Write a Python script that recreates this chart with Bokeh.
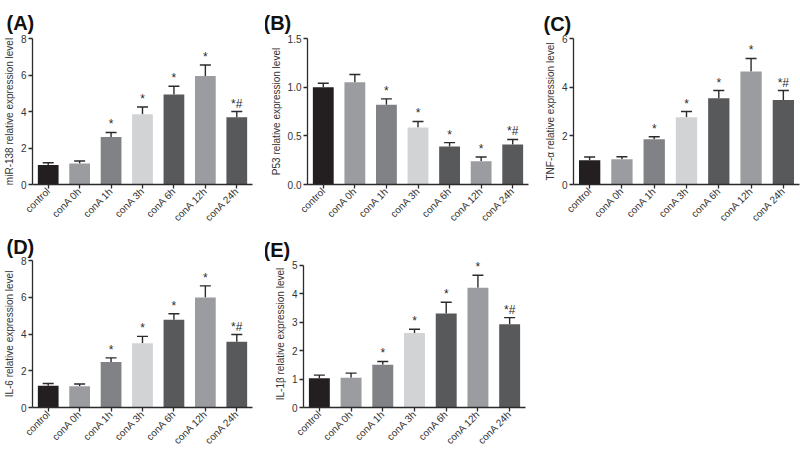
import math
from bokeh.plotting import figure
from bokeh.layouts import row, column
from bokeh.models import (ColumnDataSource, Whisker, TeeHead, FixedTicker,
                          Range1d, FactorRange, NumeralTickFormatter, LabelSet)
from bokeh.embed import file_html
from bokeh.resources import INLINE
from bokeh.core.properties import value

groups = ["control", "conA 0h", "conA 1h", "conA 3h", "conA 6h", "conA 12h", "conA 24h"]
bar_colors = ["#231f20", "#9a9ca0", "#808285", "#d1d3d4", "#58595b", "#9a9ca0", "#58595b"]
marks = ["", "", "*", "*", "*", "*", "*#"]

mir138 = [1.07, 1.15, 2.60, 3.85, 4.93, 5.95, 3.68]
mir138_sem = [0.12, 0.14, 0.25, 0.40, 0.45, 0.60, 0.32]

p53 = [1.00, 1.05, 0.82, 0.585, 0.39, 0.24, 0.41]
p53_sem = [0.04, 0.08, 0.06, 0.063, 0.04, 0.043, 0.053]

tnf = [1.00, 1.04, 1.86, 2.76, 3.54, 4.64, 3.47]
tnf_sem = [0.13, 0.10, 0.10, 0.24, 0.32, 0.54, 0.39]

il6 = [1.19, 1.15, 2.48, 3.50, 4.77, 5.99, 3.58]
il6_sem = [0.12, 0.13, 0.22, 0.37, 0.33, 0.63, 0.39]

il1b = [1.03, 1.05, 1.50, 2.62, 3.31, 4.21, 2.93]
il1b_sem = [0.11, 0.16, 0.12, 0.13, 0.39, 0.44, 0.23]

FONT = "Liberation Sans"
INK = "#2b2b2b"


def panel(letter, ylabel, vals, sems, ymax, ticks, fmt, width, height,
          bl, br, bt, bb, toff, tstand, yview=None):
    top_view = yview if yview is not None else ymax
    p = figure(x_range=FactorRange(*groups), y_range=Range1d(0, top_view),
               width=width, height=height, output_backend="svg",
               toolbar_location=None, title=letter,
               min_border_left=bl, min_border_right=br,
               min_border_top=bt, min_border_bottom=bb)
    src = ColumnDataSource(dict(
        x=groups, top=vals, upper=[v + s for v, s in zip(vals, sems)],
        color=bar_colors, mark=marks))
    p.vbar(x="x", top="top", width=0.66, fill_color="color", line_color=None,
           source=src)
    w = Whisker(base="x", lower="top", upper="upper", source=src,
                line_color=INK, line_width=1.4,
                upper_head=TeeHead(size=11, line_color=INK, line_width=1.4),
                lower_head=None)
    p.add_layout(w)
    labels = LabelSet(x="x", y="upper", text="mark", source=src,
                      text_align="center", text_baseline="bottom",
                      text_font=value(FONT), text_font_size="12px",
                      text_color=INK, y_offset=1)
    p.add_layout(labels)

    p.title.text_font = FONT
    p.title.text_font_size = "20px"
    p.title.text_font_style = "bold"
    p.title.text_color = "#111111"
    p.title.align = "left"
    p.title.offset = toff
    p.title.standoff = tstand

    p.xgrid.visible = False
    p.ygrid.visible = False
    p.outline_line_color = None
    p.background_fill_color = "white"

    for ax in (p.xaxis[0], p.yaxis[0]):
        ax.axis_line_color = INK
        ax.axis_line_width = 1.3
        ax.major_tick_line_color = INK
        ax.major_tick_line_width = 1.3
        ax.major_tick_out = 4
        ax.major_tick_in = 0
        ax.minor_tick_line_color = None
        ax.major_label_text_font = FONT
        ax.major_label_text_font_size = "10px"
        ax.major_label_text_color = "#333333"
        ax.major_label_standoff = 2

    p.xaxis.major_label_orientation = math.pi / 4
    p.xaxis.major_label_standoff = 1
    p.yaxis.ticker = FixedTicker(ticks=ticks)
    p.yaxis.formatter = NumeralTickFormatter(format=fmt)
    p.yaxis.bounds = (0, ymax)
    p.yaxis.axis_label = ylabel
    p.yaxis.axis_label_text_font = FONT
    p.yaxis.axis_label_text_font_size = "10px"
    p.yaxis.axis_label_text_font_style = "normal"
    p.yaxis.axis_label_text_color = "#333333"
    p.yaxis.axis_label_standoff = 3
    return p


pA = panel("(A)", "miR-138 relative expression level", mir138, mir138_sem,
           8, [0, 2, 4, 6, 8], "0", 265, 231, 29, 13, 38, 45, -26, 10)
pB = panel("(B)", "P53 relative expression level", p53, p53_sem,
           1.5, [0, 0.5, 1.0, 1.5], "0.0", 265, 231, 42, 2, 35, 45, -44, 9)
pC = panel("(C)", "TNF-α relative expression level", tnf, tnf_sem,
           6, [0, 2, 4, 6], "0", 270, 231, 43, 1, 36, 47, -30, 7)
pD = panel("(D)", "IL-6 relative expression level", il6, il6_sem,
           8, [0, 2, 4, 6, 8], "0", 265, 222, 29, 13, 28, 45, -26, 5)
pE = panel("(E)", "IL-1β relative expression level", il1b, il1b_sem,
           5, [0, 1, 2, 3, 4, 5], "0", 265, 222, 38, 5, 24, 45, -40, 0,
           yview=5.17)

layout = column(row(pA, pB, pC), row(pD, pE))
open("out.html", "w").write(file_html(layout, INLINE))
